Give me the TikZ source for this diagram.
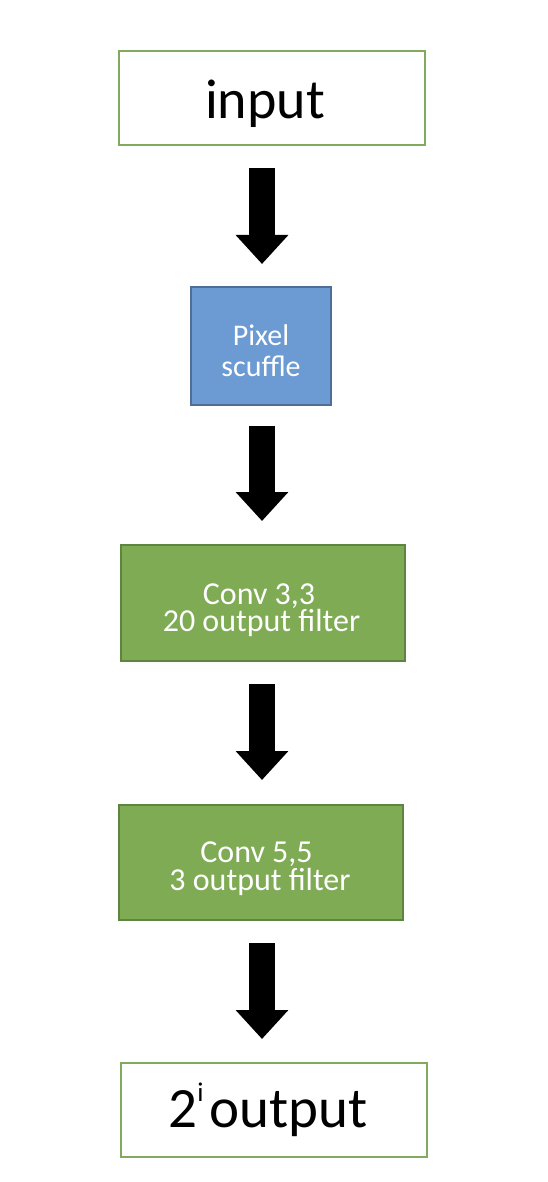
\documentclass[tikz,border=0pt]{standalone}
\usepackage{fontspec}
\setmainfont{Carlito}
\usetikzlibrary{arrows.meta}
\definecolor{boxgreen}{HTML}{7FAB55}
\definecolor{greenedge}{HTML}{5E8540}
\definecolor{boxblue}{HTML}{6B9BD2}
\definecolor{blueedge}{HTML}{4E6E96}
\definecolor{lightedge}{HTML}{82AA5E}
% #1 raise, #2 font size, #3 baselineskip, #4 lines separated by \cr
\newcommand\boxtext[4]{\raisebox{#1}[0pt][0pt]{\fontsize{#2}{#3}\selectfont\lineskiplimit=-100pt\vtop{\halign{\hfil##\hfil\cr #4\cr}}}}
\begin{document}
\begin{tikzpicture}[x=1pt,y=-1pt,
  every node/.style={inner sep=0pt,outer sep=0pt,anchor=north west},
  plainbox/.style={draw=lightedge,line width=1.4pt,fill=white,text=black},
  bluebox/.style={draw=blueedge,line width=1.4pt,fill=boxblue,text=white},
  greenbox/.style={draw=greenedge,line width=1.4pt,fill=boxgreen,text=white},
  bigarrow/.style={draw=black,line width=26pt,-{Triangle[length=29pt,width=51pt]}}]
\useasboundingbox (0,0) rectangle (548,1182);
\fill[white] (0,0) rectangle (548,1182);
\coordinate (ax) at (262,0);
\node[plainbox,minimum width=306pt,minimum height=94pt] (in) at (119,51)
  {\boxtext{-21pt}{56}{56}{input\hspace{14pt}}};
\node[bluebox,minimum width=140pt,minimum height=118pt] (px) at (191,287)
  {\boxtext{1pt}{30}{31}{Pixel\cr scuffle}};
\node[greenbox,minimum width=284pt,minimum height=116pt] (c3) at (121,545)
  {\boxtext{-1pt}{32}{27.5}{Conv 3,3\hspace{8pt}\cr 20 output filter\hspace{3pt}}};
\node[greenbox,minimum width=284pt,minimum height=115pt] (c5) at (119,805)
  {\boxtext{0pt}{32}{27.5}{Conv 5,5\hspace{9pt}\cr 3 output filter\hspace{2pt}}};
\node[plainbox,minimum width=306pt,minimum height=94pt] (out) at (121,1063)
  {\boxtext{-17pt}{57}{57}{2\raisebox{26pt}{\fontsize{27}{27}\selectfont i}\hspace{6pt}output\hspace{12pt}}};
\draw[bigarrow,shorten <=23pt,shorten >=23pt] (in.south -| ax) -- (px.north -| ax);
\draw[bigarrow,shorten <=21pt,shorten >=24pt] (px.south -| ax) -- (c3.north -| ax);
\draw[bigarrow,shorten <=23pt,shorten >=25pt] (c3.south -| ax) -- (c5.north -| ax);
\draw[bigarrow,shorten <=23pt,shorten >=24pt] (c5.south -| ax) -- (out.north -| ax);
\end{tikzpicture}
\end{document}
